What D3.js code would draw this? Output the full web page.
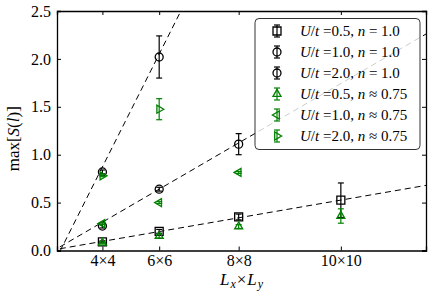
<!DOCTYPE html>
<html>
<head>
<meta charset="utf-8">
<script src="https://cdn.jsdelivr.net/npm/d3@7"></script>
<style>
  body { margin: 0; background: #fff; }
  svg { display: block; }
  text { font-family: "Liberation Serif", "DejaVu Serif", serif; fill: #000; }
</style>
</head>
<body>
<div id="plot"></div>
<script>
//System sizes on the x axis (number of sites) and their labels
const sizeLabels = ["4×4", "6×6", "8×8", "10×10"];
const sites = [16, 36, 64, 100];
const yTicks = [0, 0.5, 1.0, 1.5, 2.0, 2.5];

//max[S(l)] for each series, one value per system size
const half1 = [0.09, 0.20, 0.35, 0.525];
const half1Err = [0.01, 0.02, 0.03, 0.18];
const one1 = [0.255, 0.64, 1.11];
const one1Err = [0.02, 0.02, 0.11];
const two1 = [0.82, 2.02];
const two1Err = [0.02, 0.22];
const half75 = [0.08, 0.15, 0.25, 0.36];
const half75Err = [0.01, 0.02, 0.02, 0.075];
const one75 = [0.28, 0.50, 0.815];
const one75Err = [0.01, 0.01, 0.01];
const two75 = [0.78, 1.475];
const two75Err = [0.01, 0.11];

//Linear fits drawn dashed (slope, intercept)
const fitSlope = [0.00513, 0.01723, 0.0589];
const fitIntercept = [0.013, 0.02, -0.07];

//Legend text
const legendU = ["0.5", "1.0", "2.0", "0.5", "1.0", "2.0"];
const legendN = ["= 1.0", "= 1.0", "= 1.0", "≈ 0.75", "≈ 0.75", "≈ 0.75"];

const green = "#008000";
const series = [
    { vals: half1, err: half1Err, shape: "square", color: "#000" },
    { vals: one1, err: one1Err, shape: "circle", color: "#000" },
    { vals: two1, err: two1Err, shape: "circle", color: "#000" },
    { vals: half75, err: half75Err, shape: "up", color: green },
    { vals: one75, err: one75Err, shape: "left", color: green },
    { vals: two75, err: two75Err, shape: "right", color: green }
];

const w = 436, h = 291;
const svg = d3.select("#plot").append("svg").attr("width", w).attr("height", h);

const x = d3.scaleLinear().domain([0, 130]).range([57, 426]);
const y = d3.scaleLinear().domain([0, 2.5]).range([250.5, 11]);

//Marker path around 0,0
const markerPath = (shape, r) => {
    if (shape === "square") return `M${-r},${-r}H${r}V${r}H${-r}Z`;
    if (shape === "circle") return `M${-r},0A${r},${r} 0 1,0 ${r},0A${r},${r} 0 1,0 ${-r},0Z`;
    const k = r * 1.15;
    if (shape === "up") return `M0,${-k}L${k * 0.87},${k * 0.5}L${-k * 0.87},${k * 0.5}Z`;
    if (shape === "left") return `M${-k},0L${k * 0.5},${-k * 0.87}L${k * 0.5},${k * 0.87}Z`;
    return `M${k},0L${-k * 0.5},${-k * 0.87}L${-k * 0.5},${k * 0.87}Z`;
};

svg.append("clipPath").attr("id", "clip")
    .append("rect").attr("x", x(0)).attr("y", y(2.5))
    .attr("width", x(130) - x(0)).attr("height", y(0) - y(2.5));

//Dashed fit lines
const fitLine = d3.line().x(d => x(d[0])).y(d => y(d[1]));
svg.append("g").attr("clip-path", "url(#clip)")
    .selectAll("path")
    .data(fitSlope.map((s, i) => [1, 130].map(n => [n, s * n + fitIntercept[i]])))
    .join("path")
    .attr("d", fitLine)
    .attr("fill", "none")
    .attr("stroke", "#000")
    .attr("stroke-width", 1)
    .attr("stroke-dasharray", "6,4");

//Error bars and markers
series.forEach(s => {
    const g = svg.append("g");
    const pts = s.vals.map((v, i) => ({ n: sites[i], v: v, e: s.err[i] }));
    g.selectAll("line.bar").data(pts).join("line")
        .attr("x1", d => x(d.n)).attr("x2", d => x(d.n))
        .attr("y1", d => y(d.v - d.e)).attr("y2", d => y(d.v + d.e))
        .attr("stroke", s.color).attr("stroke-width", 1.2);
    [-1, 1].forEach(sign => {
        g.selectAll("line.cap" + sign).data(pts).join("line")
            .attr("x1", d => x(d.n) - 3).attr("x2", d => x(d.n) + 3)
            .attr("y1", d => y(d.v + sign * d.e)).attr("y2", d => y(d.v + sign * d.e))
            .attr("stroke", s.color).attr("stroke-width", 1.2);
    });
    g.selectAll("path").data(pts).join("path")
        .attr("transform", d => `translate(${x(d.n)},${y(d.v)})`)
        .attr("d", markerPath(s.shape, 4))
        .attr("fill", "none")
        .attr("stroke", s.color)
        .attr("stroke-width", 1.3);
});

//Axes with inward ticks on all four sides
const tickFont = g => g.attr("font-family", "'Liberation Serif', serif").attr("font-size", 16)
    .selectAll("text").style("font-family", "'Liberation Serif', serif").style("font-size", "16px");
svg.append("g").attr("transform", `translate(0,${y(0)})`)
    .call(d3.axisBottom(x).tickValues(sites).tickSize(-4).tickPadding(4)
        .tickFormat((d, i) => sizeLabels[i]))
    .call(tickFont);
svg.append("g").attr("transform", `translate(0,${y(2.5)})`)
    .call(d3.axisTop(x).tickValues(sites).tickSize(-4).tickFormat(""));
svg.append("g").attr("transform", `translate(${x(0)},0)`)
    .call(d3.axisLeft(y).tickValues(yTicks).tickSize(-4).tickPadding(6)
        .tickFormat(d3.format(".1f")))
    .call(tickFont);
svg.append("g").attr("transform", `translate(${x(130)},0)`)
    .call(d3.axisRight(y).tickValues(yTicks).tickSize(-4).tickFormat(""));
svg.selectAll(".domain").attr("stroke-width", 1.3);

//Axis labels
const xl = svg.append("text").attr("x", (x(0) + x(130)) / 2).attr("y", 285)
    .attr("text-anchor", "middle").style("font-size", "17px");
xl.append("tspan").style("font-style", "italic").text("L");
xl.append("tspan").attr("dx", 1).attr("dy", 3).style("font-style", "italic").style("font-size", "12px").text("x");
xl.append("tspan").attr("dx", 1).attr("dy", -3).text("×");
xl.append("tspan").attr("dx", 1).style("font-style", "italic").text("L");
xl.append("tspan").attr("dx", 1).attr("dy", 3).style("font-style", "italic").style("font-size", "12px").text("y");

const yl = svg.append("text")
    .attr("transform", `translate(19,${(y(0) + y(2.5)) / 2 + 8}) rotate(-90)`)
    .attr("text-anchor", "middle").style("font-size", "17px");
yl.append("tspan").text("max[");
yl.append("tspan").style("font-style", "italic").text("S");
yl.append("tspan").text("(");
yl.append("tspan").style("font-style", "italic").text("l");
yl.append("tspan").text(")]");

//Legend
const leg = svg.append("g");
leg.append("rect").attr("x", 255).attr("y", 18.5).attr("width", 165).attr("height", 131)
    .attr("rx", 4)
    .attr("fill", "#fff").attr("fill-opacity", 0.8)
    .attr("stroke", "#333").attr("stroke-width", 1);
series.forEach((s, i) => {
    const cy = 31 + i * 21;
    const g = leg.append("g").attr("transform", `translate(277,${cy})`);
    g.append("line").attr("y1", -6).attr("y2", 6).attr("stroke", s.color).attr("stroke-width", 1.2);
    g.append("line").attr("x1", -3).attr("x2", 3).attr("y1", -6).attr("y2", -6).attr("stroke", s.color).attr("stroke-width", 1.2);
    g.append("line").attr("x1", -3).attr("x2", 3).attr("y1", 6).attr("y2", 6).attr("stroke", s.color).attr("stroke-width", 1.2);
    g.append("path").attr("d", markerPath(s.shape, 4))
        .attr("fill", "none").attr("stroke", s.color).attr("stroke-width", 1.3);
    const t = leg.append("text").attr("x", 300).attr("y", cy + 5).style("font-size", "15px");
    t.append("tspan").style("font-style", "italic").text("U");
    t.append("tspan").text("/");
    t.append("tspan").style("font-style", "italic").text("t");
    t.append("tspan").text(" =" + legendU[i] + ", ");
    t.append("tspan").style("font-style", "italic").text("n");
    t.append("tspan").text(" " + legendN[i]);
});
</script>
</body>
</html>
